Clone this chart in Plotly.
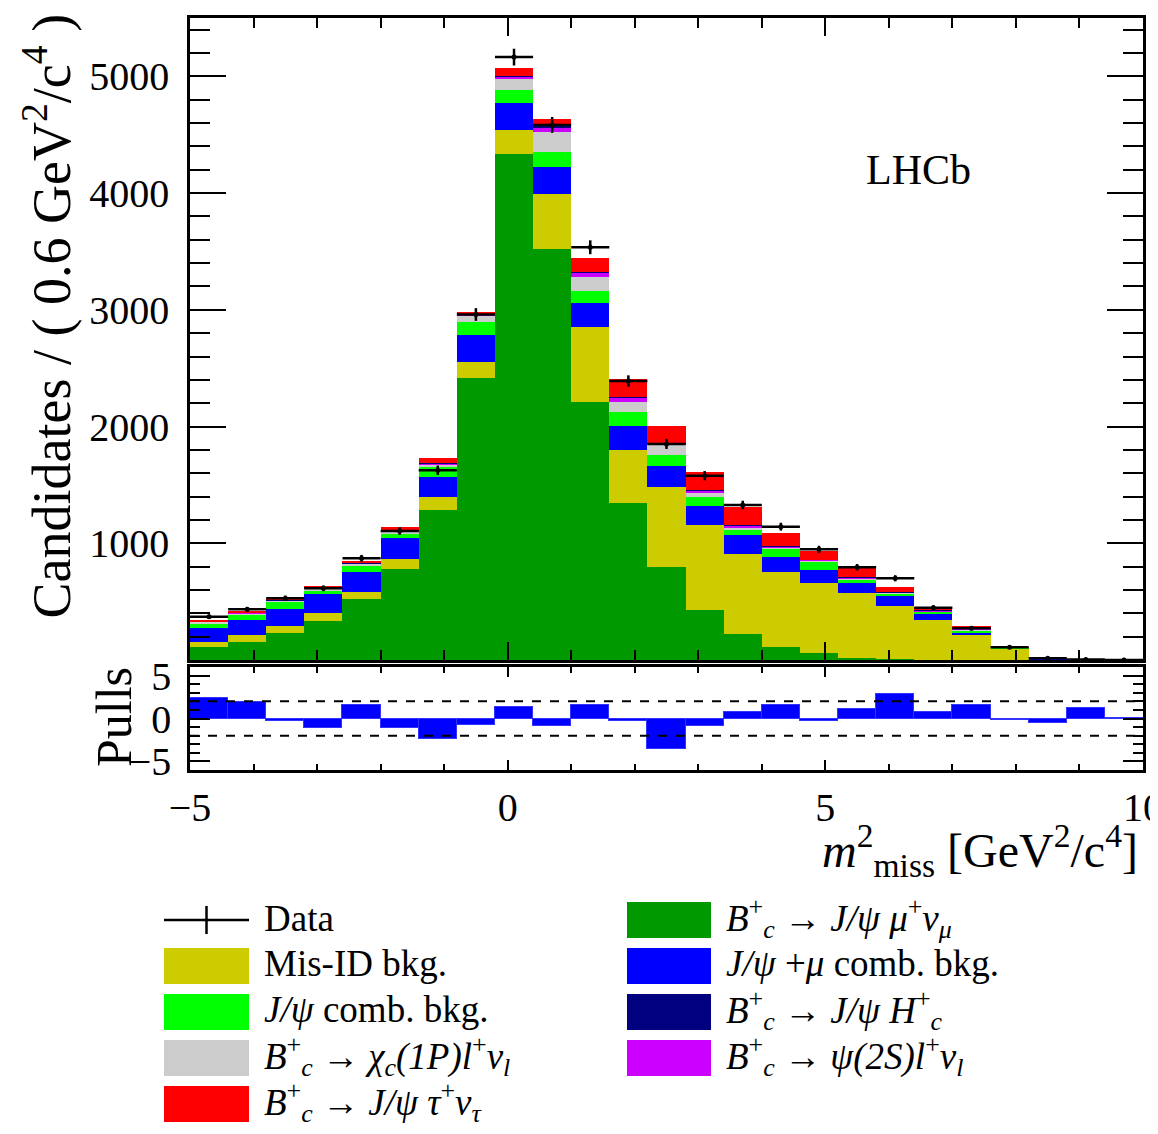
import numpy as np
import plotly.graph_objects as go

# ---------------- data ----------------
bin_lo = -5.0
bin_w = 0.6
n_bins = 25
centers = [round(bin_lo + bin_w * (i + 0.5), 3) for i in range(n_bins)]

data_counts = [371, 434, 529, 614, 871, 1105, 1625, 2960, 5165, 4584, 3536, 2390, 1851,
               1579, 1328, 1142, 948, 794, 700, 448, 271, 109, 14, 5, 1]

sig_mu = [114, 157, 229, 337, 520, 777, 1285, 2419, 4336, 3519, 2213, 1343, 794,
          428, 223, 114, 63, 20, 5, 2, 1, 0, 0, 0, 0]
misid = [43, 57, 65, 68, 65, 86, 114, 137, 206, 474, 638, 456, 691,
         729, 685, 643, 594, 551, 458, 341, 213, 100, 8, 1, 0.3]
jpsimu_comb = [120, 129, 140, 158, 166, 180, 172, 229, 234, 229, 211, 206, 177,
               163, 163, 128, 114, 86, 85, 57, 20, 2, 1, 0, 0]
jpsi_comb = [37, 43, 66, 29, 60, 37, 86, 114, 108, 134, 103, 123, 95,
             79, 49, 72, 72, 30, 23, 14, 17, 1, 0.5, 0, 0]
chic = [15, 13, 10, 17, 12, 22, 22, 50, 95, 171, 120, 85, 85,
        29, 8, 6, 6, 8, 5, 4, 10, 1, 0.3, 0, 0]
psi2s = [3, 4, 3, 5, 3, 5, 6, 8, 20, 29, 32, 33, 10,
         24, 20, 8, 8, 10, 5, 5, 10, 1, 0.2, 0, 0]
jpsi_hc = [2, 2, 2, 3, 3, 4, 4, 5, 5, 20, 10, 10, 5,
           5, 9, 5, 4, 5, 2, 2, 5, 0, 0, 0, 0]
tau = [3, 9, 10, 21, 19, 26, 39, 23, 66, 60, 120, 149, 148,
       157, 157, 115, 76, 84, 45, 32, 15, 1, 0.3, 0, 0]

pulls = [2.4, 1.9, -0.25, -1.1, 1.6, -1.1, -2.4, -0.7, 1.3, -0.85, 1.6, -0.3, -3.5,
         -0.85, 0.7, 1.6, -0.25, 1.1, 2.85, 0.7, 1.6, -0.15, -0.5, 1.2, 0.05]

components = [
    ("B_c+ -> J/psi mu+ nu_mu", sig_mu, "#009900"),
    ("Mis-ID bkg.", misid, "#CCCC00"),
    ("J/psi+mu comb. bkg.", jpsimu_comb, "#0000FF"),
    ("J/psi comb. bkg.", jpsi_comb, "#00FF00"),
    ("B_c+ -> chi_c(1P) l+ nu_l", chic, "#CCCCCC"),
    ("B_c+ -> psi(2S) l+ nu_l", psi2s, "#CC00FF"),
    ("B_c+ -> J/psi H_c+", jpsi_hc, "#000080"),
    ("B_c+ -> J/psi tau+ nu_tau", tau, "#FF0000"),
]

legend_col1 = [
    ("data", None, "Data"),
    ("box", "#CCCC00", "Mis-ID bkg."),
    ("box", "#00FF00", "<i>J/ψ</i> comb. bkg."),
    ("box", "#CCCCCC", "<i>B</i><sup>+</sup><sub><i>c</i></sub> → <i>χ</i><sub><i>c</i></sub><i>(1P)l</i><sup>+</sup><i>ν</i><sub><i>l</i></sub>"),
    ("box", "#FF0000", "<i>B</i><sup>+</sup><sub><i>c</i></sub> → <i>J/ψ τ</i><sup>+</sup><i>ν</i><sub><i>τ</i></sub>"),
]
legend_col2 = [
    ("box", "#009900", "<i>B</i><sup>+</sup><sub><i>c</i></sub> → <i>J/ψ μ</i><sup>+</sup><i>ν</i><sub><i>μ</i></sub>"),
    ("box", "#0000FF", "<i>J/ψ</i> +<i>μ</i> comb. bkg."),
    ("box", "#000080", "<i>B</i><sup>+</sup><sub><i>c</i></sub> → <i>J/ψ H</i><sup>+</sup><sub><i>c</i></sub>"),
    ("box", "#CC00FF", "<i>B</i><sup>+</sup><sub><i>c</i></sub> → <i>ψ(2S)l</i><sup>+</sup><i>ν</i><sub><i>l</i></sub>"),
]

# ---------------- figure ----------------
# The page body keeps its default 8px margin, so the figure is made 8px
# smaller and all page-pixel targets are expressed relative to the page.
OFF = 8
W, H = 1158 - OFF, 1134 - OFF
ML, MR, MT, MB = 190 - OFF, 15, 18 - OFF, 364
PW, PH = W - ML - MR, H - MT - MB


def PX(px):
    return (px - OFF - ML) / PW


def PY(py):
    return (H - MB - (py - OFF)) / PH


FONT = "Liberation Serif"
TICK_SIZE = 40
LEG_SIZE = 37

fig = go.Figure()

for name, vals, col in components:
    fig.add_trace(go.Bar(
        x=centers, y=vals, width=bin_w, name=name,
        marker=dict(color=col, line=dict(width=0)),
        xaxis="x", yaxis="y", showlegend=False,
    ))

fig.add_trace(go.Scatter(
    x=centers, y=data_counts, mode="markers", name="Data",
    marker=dict(color="black", size=5),
    error_x=dict(type="constant", value=bin_w / 2, color="black", thickness=2.5, width=0),
    error_y=dict(type="data", array=list(np.sqrt(data_counts)), color="black", thickness=2.5, width=0),
    xaxis="x", yaxis="y", showlegend=False,
))

fig.add_trace(go.Bar(
    x=centers, y=pulls, width=bin_w, name="Pulls",
    marker=dict(color="#0000FF", line=dict(width=1.2, color="#3333FF")),
    xaxis="x2", yaxis="y2", showlegend=False,
))

main_bottom = PY(660)
pull_top = PY(667)

axis_common = dict(showline=True, linewidth=2.5, linecolor="black", mirror="ticks",
                   ticks="inside", tickcolor="black", tickwidth=2, showgrid=False,
                   zeroline=False, automargin=False)

fig.update_layout(
    width=W, height=H, autosize=False,
    margin=dict(l=ML, r=MR, t=MT, b=MB, autoexpand=False),
    paper_bgcolor="white", plot_bgcolor="white",
    barmode="stack", bargap=0,
    font=dict(family=FONT, color="black", size=34),
    xaxis=dict(domain=[0, 1], anchor="y", range=[-5, 10], matches="x2",
               showticklabels=False, dtick=5, tick0=0, ticklen=18,
               minor=dict(dtick=1, ticklen=10, ticks="inside", tickcolor="black", tickwidth=2),
               **axis_common),
    yaxis=dict(domain=[main_bottom, 1], anchor="x", range=[0, 5500],
               tickvals=[1000, 2000, 3000, 4000, 5000], ticklen=36,
               tickfont=dict(size=TICK_SIZE, family=FONT), ticklabelstandoff=10,
               minor=dict(dtick=200, ticklen=20, ticks="inside", tickcolor="black", tickwidth=2),
               **axis_common),
    xaxis2=dict(domain=[0, 1], anchor="y2", range=[-5, 10],
                tickvals=[-5, 0, 5, 10], ticktext=["−5", "0", "5", "10"], ticklen=10,
                tickfont=dict(size=TICK_SIZE, family=FONT), ticklabeloverflow="allow",
                minor=dict(dtick=1, ticklen=6, ticks="inside", tickcolor="black", tickwidth=2),
                **axis_common),
    yaxis2=dict(domain=[0, pull_top], anchor="x2", range=[-6, 6],
                tickvals=[-5, 0, 5], ticktext=["−5", "0", "5"], ticklen=20,
                tickfont=dict(size=TICK_SIZE, family=FONT), ticklabelstandoff=8,
                minor=dict(dtick=1, ticklen=10, ticks="inside", tickcolor="black", tickwidth=2),
                **axis_common),
)

shapes = []
for lvl in (2, -2):
    shapes.append(dict(type="line", xref="x2 domain", yref="y2", x0=0, x1=1, y0=lvl, y1=lvl,
                       line=dict(color="black", width=2, dash="dash")))

annotations = [
    dict(text="LHCb", x=PX(864), y=PY(170), xref="paper", yref="paper",
         xanchor="left", yanchor="middle", showarrow=False, font=dict(size=42, family=FONT)),
    dict(text="Candidates / ( 0.6 GeV<sup>2</sup>/c<sup>4</sup> )", x=PX(48), y=PY(12),
         xref="paper", yref="paper", textangle=-90, xanchor="center", yanchor="top",
         showarrow=False, font=dict(size=54, family=FONT)),
    dict(text="Pulls", x=PX(114), y=PY(717), xref="paper", yref="paper", textangle=-90,
         xanchor="center", yanchor="middle", showarrow=False, font=dict(size=50, family=FONT)),
    dict(text="<i>m</i><sup>2</sup><sub>miss</sub> [GeV<sup>2</sup>/c<sup>4</sup>]",
         x=PX(1140), y=PY(850), xref="paper", yref="paper", xanchor="right", yanchor="middle",
         showarrow=False, font=dict(size=48, family=FONT)),
]

row_y = [920, 966, 1012, 1058, 1104]


def add_legend_column(entries, x0, x1, tx):
    for (kind, col, label), ry in zip(entries, row_y):
        if kind == "data":
            shapes.append(dict(type="line", xref="paper", yref="paper",
                               x0=PX(x0), x1=PX(x1), y0=PY(ry), y1=PY(ry),
                               line=dict(color="black", width=2.5)))
            xm = (x0 + x1) / 2
            shapes.append(dict(type="line", xref="paper", yref="paper",
                               x0=PX(xm), x1=PX(xm), y0=PY(ry - 14), y1=PY(ry + 14),
                               line=dict(color="black", width=2.5)))
        else:
            shapes.append(dict(type="rect", xref="paper", yref="paper",
                               x0=PX(x0), x1=PX(x1), y0=PY(ry - 18), y1=PY(ry + 18),
                               fillcolor=col, line=dict(width=0)))
        annotations.append(dict(text=label, x=PX(tx), y=PY(ry - 2), xref="paper", yref="paper",
                                xanchor="left", yanchor="middle", showarrow=False,
                                font=dict(size=LEG_SIZE, family=FONT)))


add_legend_column(legend_col1, 164, 249, 262)
add_legend_column(legend_col2, 627, 711, 724)

fig.update_layout(shapes=shapes, annotations=annotations)

fig.write_html("out.html", config={"displayModeBar": False, "responsive": False})
